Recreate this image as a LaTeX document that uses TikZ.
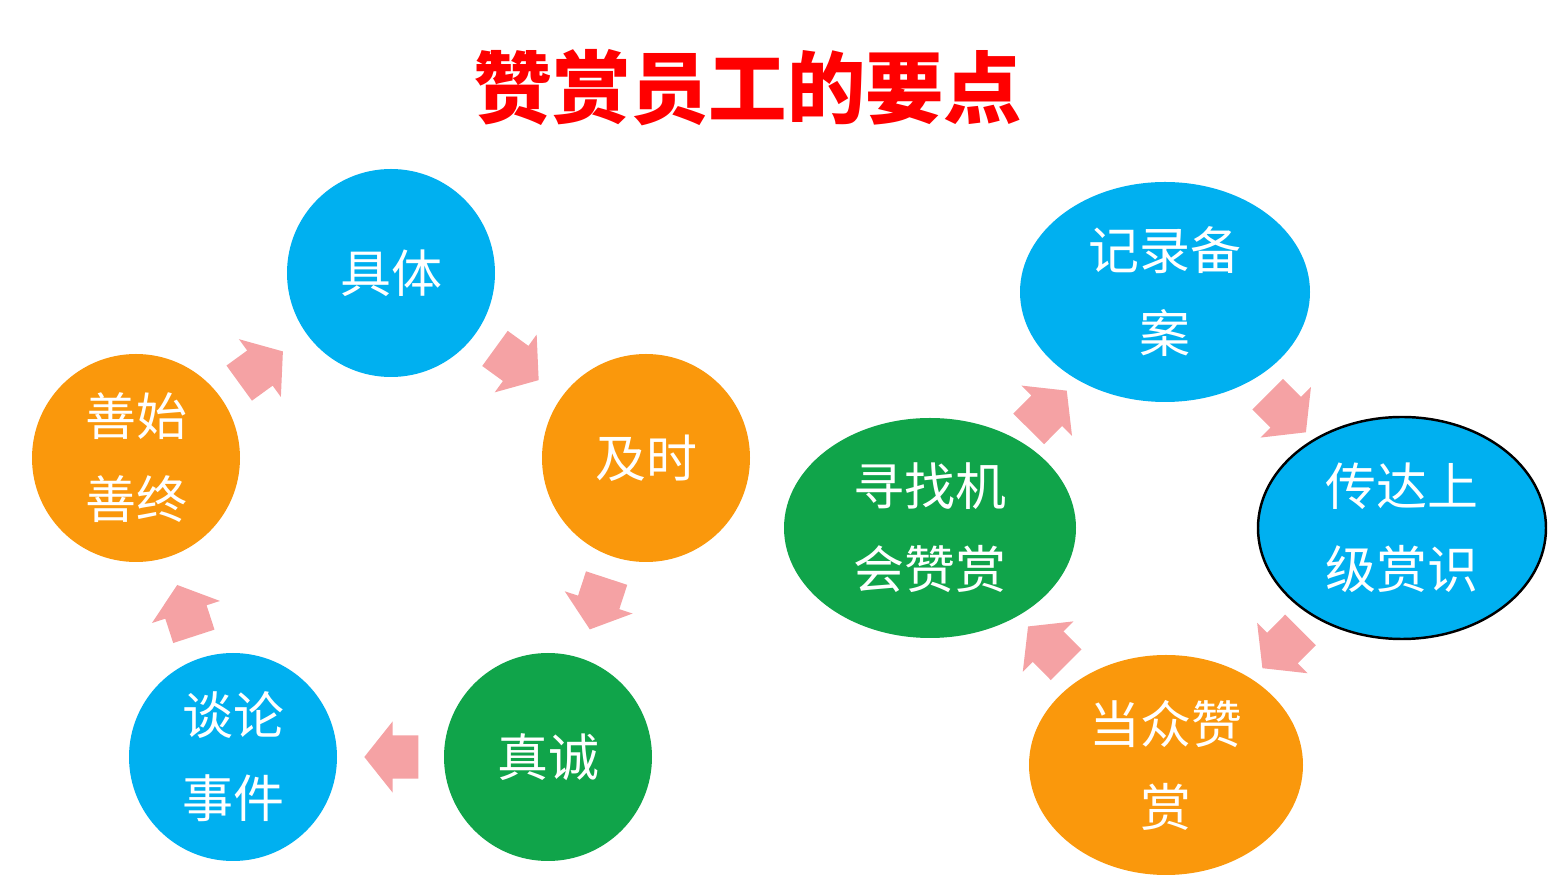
\documentclass[tikz,border=0pt]{standalone}
\usepackage{fontspec}
\newfontfamily\cjk{Noto Sans CJK SC}
\usetikzlibrary{shapes.geometric,shapes.arrows}
\definecolor{sky}{RGB}{0,176,240}
\definecolor{amber}{RGB}{250,152,12}
\definecolor{leaf}{RGB}{16,164,74}
\definecolor{blush}{RGB}{245,162,164}
\begin{document}
\begin{tikzpicture}[>=latex,scale=1.0,
    point/.style={circle,minimum size=2.08cm,inner sep=0pt,text=white,align=center,
      font=\cjk\fontsize{14.5}{23.6}\selectfont},
    oval/.style={ellipse,inner sep=0pt,minimum height=2.2cm,text=white,align=center,
      font=\cjk\fontsize{14.5}{23.6}\selectfont},
    flow/.style={single arrow,fill=blush,inner xsep=0pt,inner ysep=0.21cm,
      minimum width=0pt,minimum height=0.54cm,single arrow head extend=0.14cm,
      single arrow tip angle=103,sloped,allow upside down}]
    \useasboundingbox (0,0) rectangle (15.58,8.86);
    \node[font=\cjk\bfseries\fontsize{22.3}{26}\selectfont,text=red] (title)
      at (7.48,7.98) {赞赏员工的要点};
    \node[point,fill=sky] (juti) at (3.91,6.13) {具体};
    \node[point,fill=amber] (jishi) at (6.46,4.28) {及时};
    \node[point,fill=leaf] (zhencheng) at (5.48,1.29) {真诚};
    \node[point,fill=sky] (tanlun) at (2.33,1.29) {谈论\\事件};
    \node[point,fill=amber] (shanshi) at (1.36,4.28) {善始\\善终};
    \node[oval,fill=sky,minimum width=2.9cm] (jilu) at (11.65,5.94) {记录备\\案};
    \node[oval,fill=sky,draw=black,line width=0.7pt,minimum width=2.88cm,
      minimum height=2.22cm] (chuanda) at (14.02,3.58) {传达上\\级赏识};
    \node[oval,fill=amber,minimum width=2.74cm] (dangzhong) at (11.66,1.21) {当众赞\\赏};
    \node[oval,fill=leaf,minimum width=2.92cm] (xunzhao) at (9.30,3.58) {寻找机\\会赞赏};
    \path (shanshi.center) -- (juti.center) node[flow,pos=0.463] (f1) {};
    \path (juti.center) -- (jishi.center) node[flow,pos=0.466] (f2) {};
    \path (jishi.center) -- (zhencheng.center) node[flow,pos=0.46] (f3) {};
    \path (zhencheng.center) -- (tanlun.center) node[flow,pos=0.47] (f4) {};
    \path (tanlun.center) -- (shanshi.center) node[flow,pos=0.462] (f5) {};
    \path (xunzhao.center) -- (jilu.center) node[flow,pos=0.475] (g1) {};
    \path (jilu.center) -- (chuanda.center) node[flow,pos=0.488] (g2) {};
    \path (chuanda.center) -- (dangzhong.center) node[flow,pos=0.485] (g3) {};
    \path (dangzhong.center) -- (xunzhao.center) node[flow,pos=0.478] (g4) {};
\end{tikzpicture}
\end{document}
